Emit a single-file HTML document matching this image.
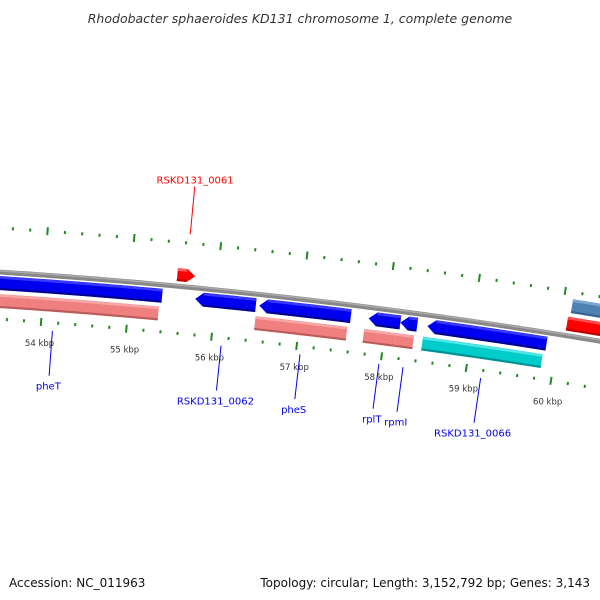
<!DOCTYPE html>
<html><head><meta charset="utf-8"><style>
html,body{margin:0;padding:0;background:#fff;}
svg{display:block;font-family:"DejaVu Sans","Liberation Sans",sans-serif;}
</style></head><body>
<svg id="map" width="600" height="600" viewBox="0 0 600 600" xmlns="http://www.w3.org/2000/svg">
<text x="300" y="23" text-anchor="middle" font-size="12.5" font-style="italic" fill="#333">Rhodobacter sphaeroides KD131 chromosome 1, complete genome</text>
<text x="9" y="587" font-size="12" fill="#111">Accession: NC_011963</text>
<text x="590" y="587" text-anchor="end" font-size="12" fill="#111">Topology: circular; Length: 3,152,792 bp; Genes: 3,143</text>
<g id="layer"></g>
</svg>
<script>
// data
const geneNames = ["pheT","RSKD131_0062","pheS","rplT","rpmI","RSKD131_0066","RSKD131_0061","next-gene"];
const geneStarts = [53254,55767,56515,57794,58166,58483,55534,60104];
const geneEnds   = [55381,56475,57586,58166,58364,59881,55742,61500];
const geneStrand = [-1,-1,-1,-1,-1,-1,1,1];
const cdsStarts = [53254,56486,57759,58131,58449,60079];
const cdsEnds   = [55355,57561,58131,58344,59856,61500];
const cdsKind   = ["cds","cds","cds","cds","rna","fwd"];
const labelGenes = ["pheT","RSKD131_0062","pheS","rplT","rpmI","RSKD131_0066","RSKD131_0061"];
const labelBp = [54140,null,null,null,null,null,null];
const tickStart = 52000, tickEnd = 62000, tickStep = 200, majorStep = 1000;

const CX=-385.5, CY=6259.7, R=6000, BP0=54000, TH0=4.066*Math.PI/180+4.5/6000, PXKB=86.25;
const NS="http://www.w3.org/2000/svg";
const layer=document.getElementById('layer');
function ang(bp){return TH0+(bp-BP0)*PXKB/1000/R;}
function pt(bp,d){const t=ang(bp),r=R+d;return [CX+r*Math.sin(t),CY-r*Math.cos(t)];}
function mk(tag,attrs,parent){const e=document.createElementNS(NS,tag);for(const k in attrs)e.setAttribute(k,attrs[k]);(parent||layer).appendChild(e);return e;}
function arcPts(b1,b2,d){const a=[];const n=Math.max(2,Math.ceil((b2-b1)/100));for(let i=0;i<=n;i++)a.push(pt(b1+(b2-b1)*i/n,d));return a;}
function poly(pts){return pts.map(p=>p[0].toFixed(2)+","+p[1].toFixed(2)).join(" ");}

// backbone
{const e=mk('polyline',{points:poly(arcPts(52000,62000,0)),fill:'none',stroke:'#888','stroke-width':5});

const e2=mk('polyline',{points:poly(arcPts(52000,62000,1.2)),fill:'none',stroke:'#aaa','stroke-width':1.5});
}

// ticks
for(let bp=tickStart;bp<=tickEnd;bp+=tickStep){
  const major=bp%majorStep===0;const L=major?4:1.5;
  [44,-47].forEach(d=>{const a=pt(bp,d-L),b=pt(bp,d+L);
    const t=mk('line',{x1:a[0],y1:a[1],x2:b[0],y2:b[1],stroke:'#1f8a1f','stroke-width':2});
    
    });
  if(major){const p=pt(bp,-68);const tx=mk('text',{x:p[0],y:p[1]+3,'text-anchor':'middle','font-size':'8.5',fill:'#333'});
    tx.textContent=(bp/1000)+" kbp";
    
    }
}

function feature(b1,b2,dIn,dOut,strand,fill,light,dark,name,head){
  let outer,inner,pts;
  const hb=head?95:0,mid=(dIn+dOut)/2;
  if(head&&strand<0){outer=arcPts(b1+hb,b2,dOut);inner=arcPts(b1+hb,b2,dIn).reverse();pts=[pt(b1,mid)].concat(outer,inner);}
  else if(head&&strand>0){outer=arcPts(b1,b2-hb,dOut);inner=arcPts(b1,b2-hb,dIn).reverse();pts=outer.concat([pt(b2,mid)],inner);}
  else {outer=arcPts(b1,b2,dOut);inner=arcPts(b1,b2,dIn).reverse();pts=outer.concat(inner);}
  const g=mk('g',{});
  
  
  mk('polygon',{points:poly(pts),fill:fill},g);
  const s1=head&&strand<0?b1+hb:b1, s2=head&&strand>0?b2-hb:b2;
  mk('polyline',{points:poly(arcPts(s1,s2,dOut-1.5)),fill:'none',stroke:light,'stroke-width':2.5},g);
  mk('polyline',{points:poly(arcPts(s1,s2,dIn+1.2)),fill:'none',stroke:dark,'stroke-width':2},g);
}
for(let i=0;i<geneNames.length;i++){
  const f=geneStrand[i];
  if(geneNames[i]==="next-gene"){feature(geneStarts[i],geneEnds[i],23,37,1,'#4f81b3','#7aa6d0','#36628f','gene-'+geneNames[i],false);continue;}
  if(f>0) feature(geneStarts[i],geneEnds[i],5,18,1,'#ff0000','#ff5a5a','#c00000','gene-'+geneNames[i],geneEnds[i]-geneStarts[i]<400);
  else feature(geneStarts[i],geneEnds[i],-18,-4,-1,'#0000ee','#3a3aff','#00008f','gene-'+geneNames[i],geneStarts[i]>53500);
}
for(let i=0;i<cdsStarts.length;i++){
  const k=cdsKind[i];
  if(k==="fwd") feature(cdsStarts[i],cdsEnds[i],5,19,1,'#ff0000','#ff5050','#bb0000','cds-feature',false);
  else if(k==="rna") feature(cdsStarts[i],cdsEnds[i],-36,-22,-1,'#00cccc','#55e5e5','#009090','rna-feature',false);
  else feature(cdsStarts[i],cdsEnds[i],-36,-22,-1,'#f08080','#f6a6a6','#b85c5c','cds-feature',false);
}

labelGenes.forEach((n,j)=>{
  const i=geneNames.indexOf(n);
  const bp=labelBp[j]!=null?labelBp[j]:(geneStarts[i]+geneEnds[i])/2;
  const fwd=geneStrand[i]>0;const col=fwd?'#ff0000':'#0000ee';
  const a=pt(bp,fwd?53:-55),b=pt(bp,fwd?101:-100);
  const l=mk('line',{x1:a[0],y1:a[1],x2:b[0],y2:b[1],stroke:col,'stroke-width':1});
  
  
  const p=pt(bp,fwd?104:-110);
  const t=mk('text',{x:p[0],y:fwd?p[1]:p[1]+4,'text-anchor':'middle','font-size':'10',fill:col});
  t.textContent=n;
  
  
});
</script>
</body></html>
